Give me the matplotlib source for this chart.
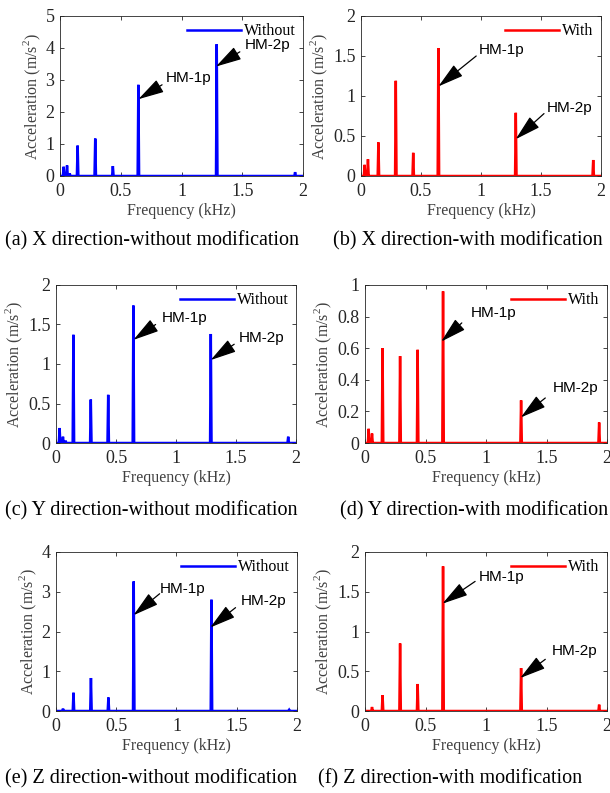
import numpy as np
import matplotlib
matplotlib.use("Agg")
from matplotlib import pyplot as plt

plt.rcParams['font.family'] = ['Liberation Serif', 'DejaVu Serif']
plt.rcParams['mathtext.fontset'] = 'custom'
plt.rcParams['mathtext.rm'] = 'Liberation Serif'

# peak frequencies (kHz)
freqs = [0.03, 0.058, 0.08, 0.145, 0.29, 0.435, 0.645, 1.29, 1.935]

# peak amplitudes (m/s^2)
x_without = [0.29, 0.33, 0.08, 0.95, 1.17, 0.31, 2.85, 4.12, 0.12]
x_with = [0.14, 0.21, 0.0, 0.42, 1.19, 0.29, 1.60, 0.79, 0.20]
y_without = [0.19, 0.08, 0.03, 1.37, 0.55, 0.61, 1.74, 1.38, 0.08]
y_with = [0.09, 0.06, 0.0, 0.60, 0.55, 0.59, 0.96, 0.27, 0.13]
z_without = [0.0, 0.06, 0.0, 0.46, 0.83, 0.34, 3.26, 2.80, 0.03]
z_with = [0.0, 0.05, 0.0, 0.20, 0.85, 0.34, 1.82, 0.54, 0.08]

captions = ["(a) X direction-without modification", "(b) X direction-with modification",
            "(c) Y direction-without modification", "(d) Y direction-with modification",
            "(e) Z direction-without modification", "(f) Z direction-with modification"]

W, H = 610, 793
fig = plt.figure(figsize=(W / 100, H / 100), dpi=100)


def px_axes(l, t, r, b):
    return fig.add_axes([l / W, 1 - b / H, (r - l) / W, (b - t) / H])


def spectrum(amps, hw=0.006):
    xs, ys = [0.0], [0.0]
    for f, a in zip(freqs, amps):
        xs += [f - hw, f, f + hw]
        ys += [0.0, a, 0.0]
    xs.append(2.0)
    ys.append(0.0)
    return xs, ys


# (amps, colour, label, ymax, yticks, box px, [(text, text_xy, tip, tail), ...])
panels = [
    (x_without, 'blue', 'Without', 5, [0, 1, 2, 3, 4, 5], (60, 16, 303, 176),
     [("HM-1p", (0.87, 3.05), (0.645, 2.4), (0.84, 2.85)),
      ("HM-2p", (1.52, 4.1), (1.283, 3.42), (1.48, 3.88))]),
    (x_with, 'red', 'With', 2, [0, 0.5, 1, 1.5, 2], (361, 16, 601, 176),
     [("HM-1p", (0.98, 1.57), (0.645, 1.12), (0.96, 1.5)),
      ("HM-2p", (1.55, 0.85), (1.289, 0.46), (1.525, 0.78))]),
    (y_without, 'blue', 'Without', 2, [0, 0.5, 1, 1.5, 2], (56, 285, 296, 443),
     [("HM-1p", (0.88, 1.58), (0.645, 1.305), (0.83, 1.5)),
      ("HM-2p", (1.52, 1.33), (1.289, 1.05), (1.485, 1.25))]),
    (y_with, 'red', 'With', 1, [0, 0.2, 0.4, 0.6, 0.8, 1], (365, 285, 607, 443),
     [("HM-1p", (0.877, 0.82), (0.63, 0.642), (0.80, 0.76)),
      ("HM-2p", (1.55, 0.347), (1.288, 0.162), (1.49, 0.285))]),
    (z_without, 'blue', 'Without', 4, [0, 1, 2, 3, 4], (56, 552, 297, 711),
     [("HM-1p", (0.864, 3.08), (0.643, 2.41), (0.86, 2.95)),
      ("HM-2p", (1.53, 2.77), (1.28, 2.1), (1.49, 2.6))]),
    (z_with, 'red', 'With', 2, [0, 0.5, 1, 1.5, 2], (365, 552, 607, 711),
     [("HM-1p", (0.943, 1.69), (0.64, 1.35), (0.91, 1.63)),
      ("HM-2p", (1.545, 0.755), (1.283, 0.415), (1.49, 0.65))]),
]

tick_col = '#262626'
for amps, col, lab, ymax, yt, box, notes in panels:
    ax = px_axes(*box)
    xs, ys = spectrum(amps)
    ax.plot(xs, ys, color=col, lw=1.8, label=lab, solid_joinstyle='miter')
    ax.set_xlim(0, 2)
    ax.set_ylim(0, ymax)
    ax.set_xticks([0, 0.5, 1, 1.5, 2])
    ax.set_xticklabels(['0', '0.5', '1', '1.5', '2'])
    ax.set_yticks(yt)
    ax.set_yticklabels([f"{v:g}" for v in yt])
    ax.tick_params(direction='in', top=True, right=True, length=3, width=0.6,
                   labelsize=13, colors=tick_col)
    ax.tick_params(axis='x', pad=5)
    ax.tick_params(axis='y', pad=4)
    for s in ax.spines.values():
        s.set_linewidth(0.6)
        s.set_color(tick_col)
    ax.set_xlabel('Frequency (kHz)', fontsize=11.5, color='#404040', labelpad=2)
    ax.set_ylabel('Acceleration (m/s$^2$)', fontsize=11.5, color='#404040', labelpad=2)
    ax.legend(loc='upper right', frameon=False, fontsize=11.5, handlelength=3.4,
              handletextpad=0.2, borderaxespad=0.25, borderpad=0.2)
    for txt, txy, tip, tail in notes:
        ax.text(txy[0], txy[1], txt, fontsize=11, family=['Liberation Sans'],
                ha='left', va='center')
        ax.annotate('', xy=tip, xytext=tail,
                    arrowprops=dict(arrowstyle='-|>,head_length=0.8,head_width=0.22',
                                    color='black', lw=0.9, mutation_scale=20,
                                    shrinkA=0, shrinkB=0))

cap_pos = [(5, 241), (333, 241), (5, 511), (340, 511), (5, 779), (318, 779)]
for txt, (cx, cy) in zip(captions, cap_pos):
    fig.text(cx / W, 1 - cy / H, txt, fontsize=14.5, ha='left', va='center')

fig.savefig('out.png', dpi=100)
